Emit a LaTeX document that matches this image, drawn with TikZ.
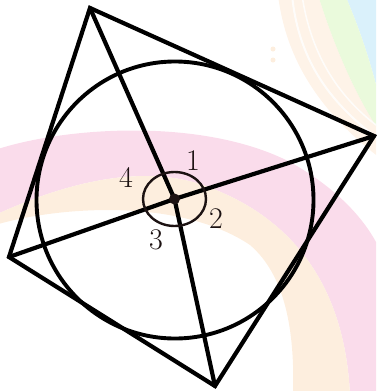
\documentclass[tikz,border=0pt]{standalone}
\usepackage{xcolor}
\definecolor{wmpink}{RGB}{250,220,235}
\definecolor{wmpeach}{RGB}{253,238,222}
\definecolor{wmgreen}{RGB}{234,250,220}
\definecolor{wmcyan}{RGB}{218,241,251}
\definecolor{inkc}{RGB}{28,18,18}
\tikzset{
  edge/.style={line width=4.2pt, draw=black, line cap=round, line join=miter},
  incirc/.style={line width=3.9pt, draw=black},
  anglemark/.style={line width=2.4pt, draw=inkc},
  lbl/.style={text=inkc, font=\fontsize{30}{34}\selectfont, inner sep=0pt},
}
\begin{document}
\begin{tikzpicture}[x=1pt,y=-1pt]
\useasboundingbox (0,0) rectangle (376,391);
% faint watermark
\begin{scope}
\clip (0,0) rectangle (376,391);
\fill[wmpink] (-5,150) .. controls (60,128) and (200,116) .. (290,162)
  .. controls (340,190) and (372,225) .. (385,262) -- (385,395) -- (350,395)
  .. controls (346,310) and (312,222) .. (200,184)
  .. controls (130,162) and (50,190) .. (-5,215) -- cycle;
\fill[wmpeach] (350,395) .. controls (346,310) and (312,222) .. (200,184)
  .. controls (130,162) and (50,190) .. (-5,215) -- (-5,225)
  .. controls (60,206) and (180,198) .. (250,245)
  .. controls (285,275) and (295,330) .. (293,395) -- cycle;
\fill[wmcyan] (345,-5) .. controls (360,30) and (370,60) .. (380,100) -- (380,-5) -- cycle;
\fill[wmgreen] (318,-5) .. controls (335,50) and (358,100) .. (380,132) -- (380,100)
  .. controls (370,60) and (360,30) .. (345,-5) -- cycle;
\fill[wmpeach, opacity=0.7] (278,-5) .. controls (286,60) and (320,112) .. (380,158) -- (380,132)
  .. controls (358,100) and (335,50) .. (318,-5) -- cycle;
\draw[white, line width=2pt, opacity=0.8] (292,-5) .. controls (298,55) and (325,100) .. (380,140);
\draw[white, line width=1.5pt, opacity=0.8] (302,-5) .. controls (310,50) and (335,95) .. (380,128);
\fill[wmpeach] (273,49) circle[radius=2.5pt] (273,60) circle[radius=2.5pt];
\end{scope}
% points
\coordinate (A) at (90,8);
\coordinate (B) at (374,136);
\coordinate (C) at (215,386);
\coordinate (D) at (9,257);
\coordinate (O) at (174.5,199);
% incircle
\draw[incirc] (175,200) circle[radius=138.5pt];
% quadrilateral
\draw[edge] (A) -- (B) -- (C) -- (D) -- cycle;
% segments to centre
\draw[edge] (O) -- (A);
\draw[edge] (O) -- (B);
\draw[edge] (O) -- (C);
\draw[edge] (O) -- (D);
% angle marks
\draw[anglemark] (O) ellipse[x radius=31.5pt, y radius=27pt];
\fill[inkc] (O) circle[radius=5.5pt];
% labels
\node[lbl] (l1) at (193,161) {1};
\node[lbl] (l2) at (216,219) {2};
\node[lbl] (l3) at (156,240) {3};
\node[lbl] (l4) at (126,177) {4};
\end{tikzpicture}
\end{document}
